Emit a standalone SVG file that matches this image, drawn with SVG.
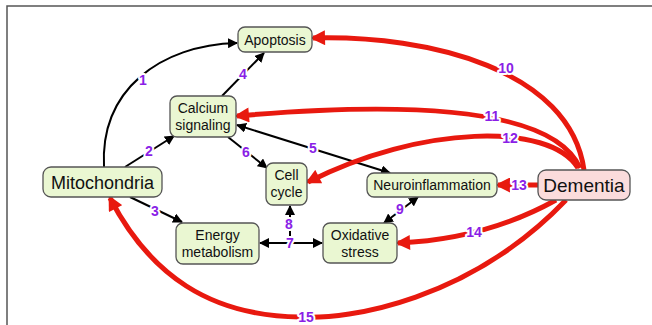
<svg xmlns="http://www.w3.org/2000/svg" width="652" height="325" viewBox="0 0 652 325">
<style>
.n{fill:#eaf7d2;stroke:#555;stroke-width:1.3}
.d{fill:#fbdcdc;stroke:#555;stroke-width:1.3}
.t{font-family:"Liberation Sans",Arial,sans-serif;font-size:14px;fill:#111;text-anchor:middle}
.b{fill:none;stroke:#000;stroke-width:2}
.r{fill:none;stroke:#e8190f;stroke-width:5}
.l{font-family:"Liberation Sans",Arial,sans-serif;font-size:14px;font-weight:bold;fill:#8a1ee6;text-anchor:middle;stroke:#fff;stroke-width:4;paint-order:stroke;stroke-linejoin:round}
</style>
<defs>
<marker id="ab" viewBox="0 0 10 10" refX="9" refY="5" markerWidth="5" markerHeight="5" orient="auto-start-reverse" markerUnits="strokeWidth"><path d="M0,0 L10,5 L0,10 z" fill="#000"/></marker>
<marker id="ar" viewBox="0 0 10 10" refX="8" refY="5" markerWidth="3.2" markerHeight="3" orient="auto" markerUnits="strokeWidth"><path d="M0,0 L10,5 L0,10 z" fill="#e8190f"/></marker>
</defs>
<path d="M7,325 V6 H652" fill="none" stroke="#555" stroke-width="1.5"/>
<g id="connectors">
<path class="b" d="M104,167 C100,90 160,45 237,43" marker-end="url(#ab)"/>
<path class="b" d="M125,167 L174,136" marker-end="url(#ab)"/>
<path class="b" d="M130,197 L182,222" marker-end="url(#ab)"/>
<path class="b" d="M222,96 L264,53" marker-end="url(#ab)"/>
<path class="b" d="M237,125 L390,173" marker-start="url(#ab)" marker-end="url(#ab)"/>
<path class="b" d="M228,137 L267,168" marker-end="url(#ab)"/>
<path class="b" d="M260,243 L322,243" marker-start="url(#ab)" marker-end="url(#ab)"/>
<path class="b" d="M290,243 L290,206" marker-end="url(#ab)"/>
<path class="b" d="M418,197 L384,223" marker-start="url(#ab)" marker-end="url(#ab)"/>
<path class="r" d="M584,170 C570,70 430,35 313,38" marker-end="url(#ar)"/>
<path class="r" d="M580,168 C555,110 420,100 237,116" marker-end="url(#ar)"/>
<path class="r" d="M578,168 C550,122 420,125 308,182" marker-end="url(#ar)"/>
<path class="r" d="M538,185 L498,185" marker-end="url(#ar)"/>
<path class="r" d="M556,200 C520,220 470,240 398,243" marker-end="url(#ar)"/>
<path class="r" d="M566,200 C470,300 350,320 300,317 C210,316 150,275 110,198" marker-end="url(#ar)"/>
<text class="l" x="143" y="85">1</text>
<text class="l" x="149" y="156">2</text>
<text class="l" x="155" y="216">3</text>
<text class="l" x="243" y="79">4</text>
<text class="l" x="313" y="153">5</text>
<text class="l" x="246" y="157">6</text>
<text class="l" x="290" y="248">7</text>
<text class="l" x="289" y="229">8</text>
<text class="l" x="400" y="214">9</text>
<text class="l" x="506" y="73">10</text>
<text class="l" x="492" y="121">11</text>
<text class="l" x="510" y="143">12</text>
<text class="l" x="519" y="190">13</text>
<text class="l" x="474" y="237">14</text>
<text class="l" x="306" y="322">15</text>
</g>
<g id="apoptosis"><rect class="n" x="238" y="27" width="74" height="25" rx="7"/><text class="t" x="275" y="45">Apoptosis</text></g>
<g id="calcium"><rect class="n" x="170" y="96" width="66" height="41" rx="7"/><text class="t" x="203" y="113">Calcium</text><text class="t" x="203" y="130">signaling</text></g>
<g id="mitochondria"><rect class="n" x="43" y="167" width="119" height="30" rx="8"/><text class="t" x="102.5" y="188.5" style="font-size:18px">Mitochondria</text></g>
<g id="cellcycle"><rect class="n" x="266" y="163" width="41" height="42" rx="7"/><text class="t" x="286.5" y="180">Cell</text><text class="t" x="286.5" y="197">cycle</text></g>
<g id="energy"><rect class="n" x="176" y="223" width="83" height="41" rx="7"/><text class="t" x="217.5" y="240">Energy</text><text class="t" x="217.5" y="257">metabolism</text></g>
<g id="oxidative"><rect class="n" x="323" y="223" width="74" height="40" rx="7"/><text class="t" x="360" y="240">Oxidative</text><text class="t" x="360" y="257">stress</text></g>
<g id="neuroinflammation"><rect class="n" x="367" y="173" width="130" height="24" rx="7"/><text class="t" x="432" y="190">Neuroinflammation</text></g>
<g id="dementia"><rect class="d" x="538" y="170" width="92" height="30" rx="8"/><text class="t" x="584" y="191.5" style="font-size:19px">Dementia</text></g>
</svg>
